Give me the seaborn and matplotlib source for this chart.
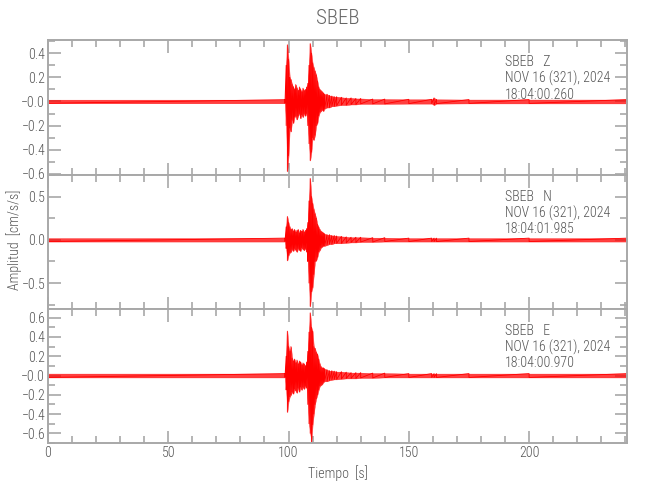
import matplotlib
matplotlib.use("Agg")
import matplotlib.pyplot as plt
import numpy as np
import pandas as pd
import seaborn as sns
from matplotlib.ticker import FixedLocator, FixedFormatter, MultipleLocator

# envelope knots (seconds)
t_knots = [0, 98.5, 99.0, 99.5, 100.0, 100.5, 101.0, 101.5, 102.0, 102.5, 103.0,
           103.5, 104.0, 104.5, 105.0, 105.5, 106.0, 106.5, 107.0, 107.5, 108.0,
           108.5, 109.0, 109.5, 110.0, 110.5, 111.0, 111.5, 112.0, 112.5, 113.0,
           113.5, 114.0, 114.5, 115.0, 116.0, 117.0, 118.0, 119.0, 120.0, 122.0,
           124.0, 126.0, 128.0, 130.0, 135.0, 140.0, 150.0, 159.5, 160.5, 161.5,
           175.0, 200.0, 241.0]

z_up = [0.015, 0.015, 0.30, 0.47, 0.35, 0.20, 0.18, 0.14, 0.12, 0.10, 0.14,
        0.11, 0.09, 0.12, 0.10, 0.08, 0.11, 0.09, 0.10, 0.12, 0.15,
        0.30, 0.48, 0.40, 0.32, 0.28, 0.25, 0.22, 0.17, 0.12, 0.10,
        0.09, 0.08, 0.07, 0.06, 0.06, 0.05, 0.045, 0.04, 0.04, 0.035,
        0.03, 0.03, 0.025, 0.025, 0.02, 0.02, 0.018, 0.018, 0.03, 0.018,
        0.016, 0.016, 0.016]
z_lo = [-0.015, -0.015, -0.20, -0.58, -0.45, -0.22, -0.25, -0.15, -0.18, -0.13, -0.12,
        -0.15, -0.12, -0.10, -0.14, -0.11, -0.13, -0.10, -0.12, -0.10, -0.20,
        -0.35, -0.49, -0.42, -0.30, -0.32, -0.28, -0.20, -0.18, -0.12, -0.09,
        -0.08, -0.07, -0.08, -0.06, -0.05, -0.05, -0.04, -0.04, -0.035, -0.03,
        -0.03, -0.025, -0.025, -0.02, -0.02, -0.02, -0.018, -0.018, -0.03, -0.018,
        -0.016, -0.016, -0.016]

n_up = [0.02, 0.02, 0.15, 0.27, 0.20, 0.15, 0.12, 0.13, 0.10, 0.12, 0.09,
        0.11, 0.12, 0.08, 0.11, 0.10, 0.12, 0.09, 0.11, 0.13, 0.20,
        0.45, 0.71, 0.50, 0.42, 0.35, 0.30, 0.25, 0.18, 0.15, 0.12,
        0.10, 0.09, 0.08, 0.07, 0.06, 0.06, 0.05, 0.05, 0.045, 0.04,
        0.035, 0.03, 0.03, 0.03, 0.025, 0.025, 0.02, 0.02, 0.02, 0.02,
        0.02, 0.02, 0.02]
n_lo = [-0.02, -0.02, -0.10, -0.24, -0.18, -0.15, -0.14, -0.11, -0.13, -0.10, -0.12,
        -0.14, -0.10, -0.12, -0.13, -0.09, -0.11, -0.12, -0.10, -0.14, -0.25,
        -0.50, -0.77, -0.60, -0.55, -0.40, -0.25, -0.24, -0.20, -0.14, -0.12,
        -0.09, -0.08, -0.07, -0.07, -0.06, -0.05, -0.05, -0.04, -0.04, -0.04,
        -0.035, -0.03, -0.03, -0.025, -0.025, -0.02, -0.02, -0.02, -0.02, -0.02,
        -0.02, -0.02, -0.02]

e_up = [0.02, 0.02, 0.20, 0.46, 0.30, 0.25, 0.30, 0.18, 0.15, 0.17, 0.13,
        0.16, 0.12, 0.15, 0.14, 0.11, 0.13, 0.12, 0.10, 0.14, 0.25,
        0.45, 0.65, 0.50, 0.46, 0.30, 0.28, 0.24, 0.22, 0.17, 0.12,
        0.09, 0.08, 0.08, 0.07, 0.06, 0.05, 0.05, 0.045, 0.04, 0.04,
        0.035, 0.03, 0.03, 0.03, 0.025, 0.025, 0.02, 0.02, 0.02, 0.02,
        0.02, 0.02, 0.02]
e_lo = [-0.02, -0.02, -0.15, -0.38, -0.27, -0.22, -0.20, -0.17, -0.19, -0.14, -0.16,
        -0.18, -0.13, -0.17, -0.12, -0.15, -0.12, -0.14, -0.11, -0.13, -0.30,
        -0.50, -0.60, -0.69, -0.51, -0.40, -0.30, -0.24, -0.20, -0.15, -0.11,
        -0.10, -0.09, -0.07, -0.06, -0.06, -0.05, -0.045, -0.04, -0.04, -0.035,
        -0.03, -0.03, -0.03, -0.025, -0.025, -0.02, -0.02, -0.02, -0.02, -0.02,
        -0.02, -0.02, -0.02]

components = ["Z", "N", "E"]
start_times = ["18:04:00.260", "18:04:01.985", "18:04:00.970"]
station = "SBEB"
date_str = "NOV 16 (321), 2024"

ylims = [(-0.61, 0.51), (-0.80, 0.75), (-0.70, 0.69)]
yticks = [[-0.6, -0.4, -0.2, 0.0, 0.2, 0.4],
          [-0.5, 0.0, 0.5],
          [-0.6, -0.4, -0.2, 0.0, 0.2, 0.4, 0.6]]
ytick_labels = [["\u22120.6", "\u22120.4", "\u22120.2", "\u22120.0", "0.2", "0.4"],
                ["\u22120.5", "0.0", "0.5"],
                ["\u22120.6", "\u22120.4", "\u22120.2", "\u22120.0", "0.2", "0.4", "0.6"]]
yminor = [0.1, 0.25, 0.1]

sns.set_theme(style="white")
plt.rcParams["font.family"] = ["Roboto Condensed", "DejaVu Sans"]
plt.rcParams["font.weight"] = "light"
plt.rcParams["axes.labelweight"] = "light"
grey = "#a8a8a8"
txt = "#555555"

fig = plt.figure(figsize=(6.5, 5), dpi=100)
left, width = 48 / 650, (627 - 48) / 650
tops = [40, 175, 309]
bottoms = [175, 309, 443]

envs = [(z_up, z_lo), (n_up, n_lo), (e_up, e_lo)]
axes = []
for i, (up, lo) in enumerate(envs):
    b = 1 - bottoms[i] / 500
    h = (bottoms[i] - tops[i]) / 500
    ax = fig.add_axes([left, b, width, h])
    axes.append(ax)
    ax.fill_between(t_knots, lo, up, color="red", alpha=0.75, lw=0.3)
    trace = pd.DataFrame({
        "t": np.repeat(t_knots, 2),
        "amp": np.column_stack([up, lo]).ravel(),
    })
    sns.lineplot(data=trace, x="t", y="amp", ax=ax, color="red", lw=0.6,
                 sort=False, estimator=None)
    ax.set_xlim(0, 240.7)
    ax.set_ylim(*ylims[i])
    ax.yaxis.set_major_locator(FixedLocator(yticks[i]))
    ax.yaxis.set_major_formatter(FixedFormatter(ytick_labels[i]))
    ax.yaxis.set_minor_locator(MultipleLocator(yminor[i]))
    ax.xaxis.set_major_locator(MultipleLocator(50))
    ax.xaxis.set_minor_locator(MultipleLocator(10))
    ax.tick_params(which="both", direction="in", top=True, right=True,
                   bottom=True, left=True, color=grey, width=1.2)
    ax.tick_params(which="major", length=9, labelsize=10, labelcolor=txt, pad=2)
    ax.tick_params(which="minor", length=5)
    for s in ax.spines.values():
        s.set_color(grey)
        s.set_linewidth(1.4)
    ax.set_xlabel("")
    ax.set_ylabel("")
    if i < 2:
        ax.tick_params(labelbottom=False)
    ax.text(0.789, 0.89, f"{station}   {components[i]}\n{date_str}\n{start_times[i]}",
            transform=ax.transAxes, ha="left", va="top", fontsize=10,
            color=txt, linespacing=1.15)

axes[2].set_xlabel("Tiempo  [s]", fontsize=10, color=txt, labelpad=4,
                   fontweight="light")
fig.text(0.022, 0.52, "Amplitud  [cm/s/s]", rotation=90, ha="center",
         va="center", fontsize=10, color=txt)
fig.text(0.52, 0.963, station, ha="center", va="center", fontsize=15, color="#666666")

fig.savefig("out.png", dpi=100)
